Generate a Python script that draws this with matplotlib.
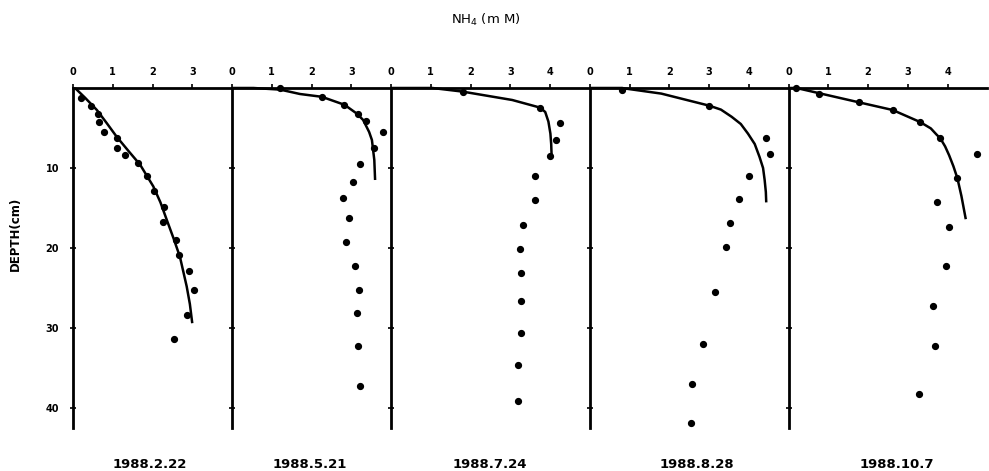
import matplotlib
matplotlib.use("Agg")
import matplotlib.pyplot as plt

# ---------------- data ----------------
dates = ["1988.2.22", "1988.5.21", "1988.7.24", "1988.8.28", "1988.10.7"]
xmax = [4, 4, 5, 5, 5]
xtick_vals = [[0, 1, 2, 3], [0, 1, 2, 3], [0, 1, 2, 3, 4], [0, 1, 2, 3, 4], [0, 1, 2, 3, 4]]
depth_ticks = [10, 20, 30, 40]

# measured points (NH4 mM, depth cm)
p1_x = [0.2, 0.45, 0.62, 0.65, 0.78, 1.1, 1.11, 1.3, 1.63, 1.85, 2.04, 2.28, 2.27, 2.6, 2.67, 2.93, 3.04, 2.88, 2.54]
p1_d = [1.3, 2.25, 3.3, 4.3, 5.5, 6.25, 7.5, 8.4, 9.4, 11.0, 12.9, 14.9, 16.8, 19.0, 20.9, 22.9, 25.3, 28.4, 31.4]
p2_x = [1.21, 2.26, 2.83, 3.16, 3.36, 3.81, 3.56, 3.23, 3.04, 2.78, 2.95, 2.86, 3.09, 3.19, 3.14, 3.16, 3.21]
p2_d = [0.05, 1.1, 2.1, 3.25, 4.1, 5.5, 7.5, 9.5, 11.7, 13.75, 16.25, 19.25, 22.2, 25.2, 28.1, 32.25, 37.2]
p3_x = [1.8, 3.75, 4.24, 4.16, 4.01, 3.62, 3.62, 3.32, 3.25, 3.28, 3.28, 3.27, 3.2, 3.2]
p3_d = [0.45, 2.45, 4.4, 6.5, 8.5, 11.0, 14.0, 17.1, 20.1, 23.1, 26.6, 30.6, 34.6, 39.1]
p4_x = [0.8, 3.0, 4.44, 4.54, 4.0, 3.76, 3.52, 3.44, 3.16, 2.86, 2.57, 2.54]
p4_d = [0.25, 2.2, 6.2, 8.3, 11.0, 13.9, 16.9, 19.9, 25.5, 32.0, 37.0, 41.9]
p5_x = [0.2, 0.77, 1.78, 2.62, 3.31, 3.82, 4.73, 4.25, 3.73, 4.03, 3.97, 3.64, 3.69, 3.29]
p5_d = [0.0, 0.75, 1.8, 2.75, 4.25, 6.3, 8.3, 11.3, 14.3, 17.4, 22.3, 27.3, 32.3, 38.3]

# fitted model curves
c1_x = [0.05, 0.3, 0.6, 0.85, 1.1, 1.4, 1.69, 2.02, 2.2, 2.36, 2.53, 2.69, 2.86, 2.94, 3.0]
c1_d = [0.0, 1.2, 2.75, 4.4, 6.1, 7.9, 9.6, 12.3, 14.3, 16.5, 18.8, 21.1, 24.8, 27.0, 29.4]
c2_x = [0.0, 0.54, 1.21, 1.71, 2.26, 2.83, 3.14, 3.3, 3.45, 3.52, 3.58, 3.6]
c2_d = [0.0, 0.0, 0.2, 0.75, 1.1, 2.1, 3.2, 4.0, 5.5, 6.5, 9.0, 11.5]
c3_x = [0.0, 1.04, 1.8, 3.05, 3.75, 3.88, 3.96, 4.01, 4.03, 4.04, 4.0]
c3_d = [0.0, 0.0, 0.45, 1.5, 2.45, 3.0, 4.2, 5.7, 7.0, 8.4, 8.6]
c4_x = [0.0, 0.8, 1.8, 3.0, 3.3, 3.57, 3.8, 3.98, 4.15, 4.27, 4.36, 4.4, 4.43, 4.44]
c4_d = [0.0, 0.0, 0.7, 2.2, 2.7, 3.6, 4.5, 5.7, 7.0, 8.6, 10.0, 11.5, 13.0, 14.3]
c5_x = [0.0, 0.2, 1.78, 2.62, 3.31, 3.58, 3.72, 3.82, 3.94, 4.04, 4.15, 4.25, 4.35, 4.46]
c5_d = [0.0, 0.0, 1.8, 2.75, 4.25, 5.05, 5.8, 6.3, 7.3, 8.4, 9.8, 11.3, 13.5, 16.4]

points = [(p1_x, p1_d), (p2_x, p2_d), (p3_x, p3_d), (p4_x, p4_d), (p5_x, p5_d)]
curves = [(c1_x, c1_d), (c2_x, c2_d), (c3_x, c3_d), (c4_x, c4_d), (c5_x, c5_d)]

# ---------------- figure ----------------
W, H = 989, 471
fig = plt.figure(figsize=(W / 100, H / 100), dpi=100)

left_px = 73.0
unit_px = 39.75
top_px, bot_px = 88.0, 428.0
ymax = 42.5

x0 = left_px
for i in range(5):
    w = xmax[i] * unit_px
    ax = fig.add_axes([x0 / W, (H - bot_px) / H, w / W, (bot_px - top_px) / H])
    x0 += w
    ax.set_xlim(0, xmax[i])
    ax.set_ylim(ymax, 0)
    ax.patch.set_alpha(0)
    for s in ["right", "bottom"]:
        ax.spines[s].set_visible(False)
    ax.spines["left"].set_linewidth(2.0)
    ax.spines["top"].set_linewidth(2.0)
    ax.xaxis.set_ticks_position("top")
    ax.set_xticks(xtick_vals[i])
    ax.set_xticklabels([str(v) for v in xtick_vals[i]], fontsize=7, fontweight="bold")
    ax.tick_params(axis="x", direction="out", length=3, width=1.2, pad=5)
    ax.set_yticks(depth_ticks)
    if i == 0:
        ax.set_yticklabels([str(v) for v in depth_ticks], fontsize=7, fontweight="bold")
    else:
        ax.set_yticklabels([])
    ax.tick_params(axis="y", direction="inout", length=4, width=1.2, pad=8)

    cx, cd = curves[i]
    ax.plot(cx, cd, color="black", lw=1.8, solid_capstyle="butt",
            solid_joinstyle="round", clip_on=False)
    px, pd = points[i]
    ax.plot(px, pd, "o", color="black", ms=4.2, clip_on=False)

# date labels under each panel
centers_px = [150, 310, 490, 697, 897]
for cpx, d in zip(centers_px, dates):
    fig.text(cpx / W, 1 - 465 / H, d, ha="center", va="center", fontsize=9.5,
             fontweight="bold", family=["Liberation Sans Narrow", "DejaVu Sans"])

fig.text(486 / W, 1 - 20 / H, r"NH$_4$ (m M)", ha="center", va="center", fontsize=9.5)
fig.text(15 / W, 1 - 234 / H, "DEPTH(cm)", ha="center", va="center", rotation=90,
         fontsize=8.5, fontweight="bold")

fig.savefig("out.png", dpi=100)
